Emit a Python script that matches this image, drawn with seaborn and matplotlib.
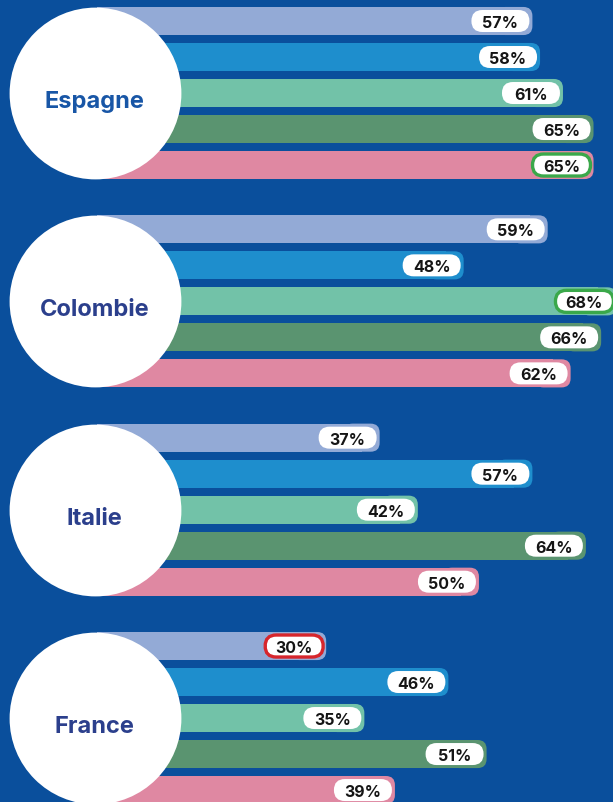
import pandas as pd
import seaborn as sns
import matplotlib.pyplot as plt
from matplotlib.patches import FancyBboxPatch

# data
countries = ['Espagne', 'Colombie', 'Italie', 'France']
series = ['série 1', 'série 2', 'série 3', 'série 4', 'série 5']
espagne = [57, 58, 61, 65, 65]
colombie = [59, 48, 68, 66, 62]
italie = [37, 57, 42, 64, 50]
france = [30, 46, 35, 51, 39]
values = [espagne, colombie, italie, france]
# highlighted labels: (country, series index, colour)
highlights = [('Espagne', 4, '#3aa84a'), ('Colombie', 2, '#3aa84a'), ('France', 0, '#d7262c')]

# styling
BG = '#0a4f9c'
colors = ['#93aad6', '#1e8ecd', '#72c2a8', '#5a9470', '#df88a2']
label_colors = ['#1856a6', '#2b3f8c', '#2b3f8c', '#2b3f8c']
GROUP_STEP = 5.786
W, H = 613, 803
XLIM = (-12.7, 67.55)
YLIM = (21.69, -0.611)
KX = W / (XLIM[1] - XLIM[0])   # px per % unit
KY = H / (YLIM[0] - YLIM[1])   # px per row

sns.set_theme(style='white')
plt.rcParams['font.family'] = ['Inter', 'DejaVu Sans']

rows = []
for g, (name, vals) in enumerate(zip(countries, values)):
    for i, v in enumerate(vals):
        rows.append(dict(pays=name, serie=series[i], valeur=v, pos=g * GROUP_STEP + i))
df = pd.DataFrame(rows)

fig = plt.figure(figsize=(W / 100, H / 100), dpi=100)
ax = fig.add_axes([0, 0, 1, 1])
fig.patch.set_facecolor(BG)
ax.set_facecolor(BG)

sns.barplot(data=df, x='valeur', y='pos', hue='serie', palette=dict(zip(series, colors)),
            orient='h', native_scale=True, dodge=False, width=0.78, saturation=1,
            legend=False, ax=ax)

# rounded right end on each bar
rx = 9 / KX
ry = 9 / KY
for p in list(ax.patches):
    x0, y0, w, h = p.get_x(), p.get_y(), p.get_width(), p.get_height()
    fc = p.get_facecolor()
    p.set_width(w - 2 * rx)
    p.set_linewidth(0)
    ax.add_patch(FancyBboxPatch((x0 + w - 4 * rx, y0), 4 * rx, h,
                                boxstyle=f'round,pad=0,rounding_size={rx}',
                                mutation_aspect=ry / rx, fc=fc, lw=0, zorder=p.get_zorder()))

# circles with country names
centers = [g * GROUP_STEP + 2 for g in range(len(countries))]
sns.scatterplot(x=[-0.3] * len(countries), y=centers, s=15300, color='white',
                linewidth=0, zorder=4, ax=ax, legend=False)
for c, name, col in zip(centers, countries, label_colors):
    ax.text(-0.3, c + 0.15, name, ha='center', va='center_baseline', fontsize=17,
            fontweight='bold', color=col, zorder=6)

# value pills
pw = 58 / KX
ph = 22 / KY
pr = 11 / KX
hl = {(c, i): col for c, i, col in highlights}
for _, r in df.iterrows():
    i = series.index(r['serie'])
    right = r['valeur'] - 3 / KX
    ec = hl.get((r['pays'], i))
    ax.add_patch(FancyBboxPatch((right - pw, r['pos'] - ph / 2), pw, ph,
                                boxstyle=f'round,pad=0,rounding_size={pr}',
                                mutation_aspect=KX / KY, fc='white',
                                ec=ec if ec else 'none', lw=2.4 if ec else 0, zorder=5))
    ax.text(right - pw / 2, r['pos'], f"{r['valeur']}%", ha='center', va='center_baseline',
            fontsize=11.5, fontweight='bold', color='#151515', zorder=6)

ax.set_xlim(*XLIM)
ax.set_ylim(*YLIM)
ax.set_axis_off()

fig.savefig('out.png', dpi=100, facecolor=BG)
